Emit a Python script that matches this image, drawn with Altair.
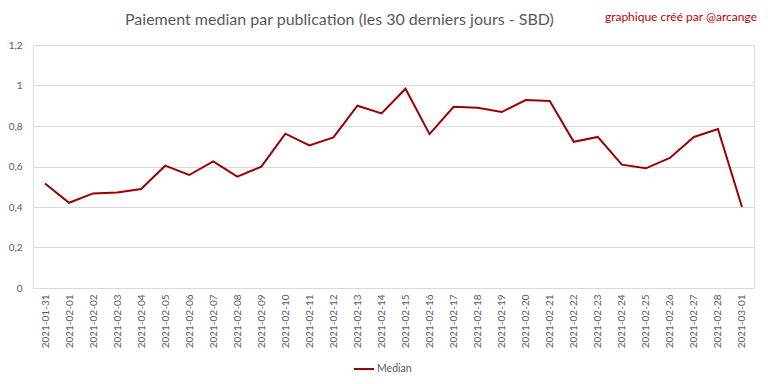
import altair as alt
import pandas as pd

dates = [
    "2021-01-31", "2021-02-01", "2021-02-02", "2021-02-03", "2021-02-04",
    "2021-02-05", "2021-02-06", "2021-02-07", "2021-02-08", "2021-02-09",
    "2021-02-10", "2021-02-11", "2021-02-12", "2021-02-13", "2021-02-14",
    "2021-02-15", "2021-02-16", "2021-02-17", "2021-02-18", "2021-02-19",
    "2021-02-20", "2021-02-21", "2021-02-22", "2021-02-23", "2021-02-24",
    "2021-02-25", "2021-02-26", "2021-02-27", "2021-02-28", "2021-03-01",
]
median = [
    0.516, 0.421, 0.467, 0.472, 0.489, 0.604, 0.558, 0.625, 0.550, 0.599,
    0.762, 0.704, 0.744, 0.900, 0.862, 0.984, 0.760, 0.895, 0.890, 0.869,
    0.928, 0.923, 0.722, 0.746, 0.609, 0.591, 0.642, 0.746, 0.785, 0.400,
]
series_name = "Median"
y_ticks = [0, 0.2, 0.4, 0.6, 0.8, 1.0, 1.2]
title_text = "Paiement median par publication (les 30 derniers jours - SBD)"
credit_text = "graphique créé par @arcange"

df = pd.DataFrame({"date": dates, "value": median, "series": series_name})

grey = "#595959"
font = "Lato"

line = alt.Chart(df).mark_line(strokeWidth=2).encode(
    x=alt.X(
        "date:O",
        sort=None,
        scale=alt.Scale(type="point", padding=0.5),
        axis=alt.Axis(
            title=None, labelAngle=270, domain=False, ticks=False,
            labelColor=grey, labelFontSize=10, labelFont=font, labelPadding=6,
        ),
    ),
    y=alt.Y(
        "value:Q",
        scale=alt.Scale(domain=[0, 1.2], nice=False),
        axis=alt.Axis(
            title=None, values=y_ticks, domain=False, ticks=False,
            gridColor="#d9d9d9", gridWidth=1,
            labelColor=grey, labelFontSize=10, labelFont=font, labelPadding=11,
            labelExpr="replace(format(datum.value, '.1~f'), '.', ',')",
        ),
    ),
    color=alt.Color(
        "series:N",
        scale=alt.Scale(domain=[series_name], range=["#9b0000"]),
        legend=alt.Legend(
            title=None, orient="none", legendX=320, legendY=313,
            symbolType="stroke", symbolStrokeWidth=2, symbolSize=400,
            labelColor=grey, labelFontSize=10.5, labelFont=font, labelOffset=2,
        ),
    ),
)

title = alt.Chart(pd.DataFrame({"t": [title_text]})).mark_text(
    align="left", baseline="middle", color=grey, fontSize=16, font=font,
).encode(
    text="t:N",
    x=alt.value(92),
    y=alt.value(-25),
)

credit = alt.Chart(pd.DataFrame({"t": [credit_text]})).mark_text(
    align="right", baseline="middle", color="#c00000", fontSize=12, font=font,
).encode(
    text="t:N",
    x=alt.value(724),
    y=alt.value(-28),
)

chart = alt.layer(line, title, credit).properties(
    width=721,
    height=243,
    autosize=alt.AutoSizeParams(type="none"),
    padding={"left": 25, "top": 37, "right": 6, "bottom": 90},
).configure_view(stroke=None).configure(background="white")

chart.save("out.html", embed_options={"renderer": "svg", "actions": False})
